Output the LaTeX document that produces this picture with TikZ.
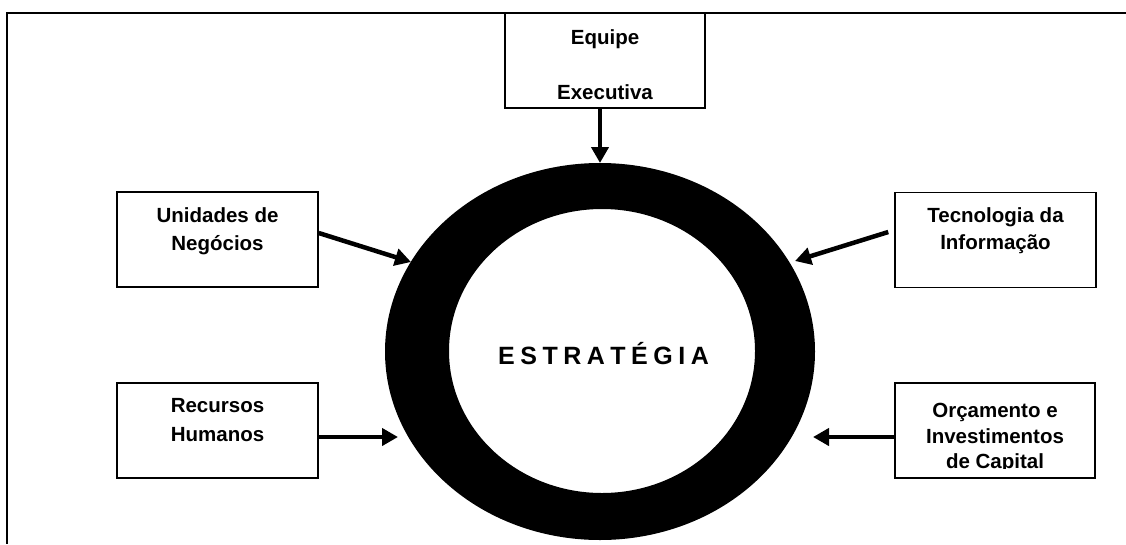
\documentclass[tikz,border=0pt]{standalone}
\usepackage{fontspec}
\newfontfamily\lblfont{Liberation Sans}
\usetikzlibrary{arrows.meta}
\begin{document}
\begin{tikzpicture}[x=1pt,y=-1pt,
  box/.style={draw,line width=1.5pt,inner sep=0pt,minimum width=201pt,minimum height=95pt},
  lbl/.style={inner sep=0pt,anchor=north,align=center},
  arr/.style={line width=4.5pt,-{Triangle[width=17pt,length=16pt]}}]
\useasboundingbox (0,0) rectangle (1126,544);
% frame
\draw[line width=2pt] (1126,13) -- (7,13) -- (7,544);
% ring
\fill[even odd rule] (600,351.5) ellipse [x radius=215pt, y radius=188.5pt]
                     (602,351) ellipse [x radius=153pt, y radius=142pt];
\coordinate (ring) at (602,351);
\node[anchor=base,inner sep=0pt,font={\lblfont\bfseries\fontsize{25}{25}\selectfont}] (strat) at (603.5,364)
  {E\kern5.5pt S\kern5.5pt T\kern5.5pt R\kern5.5pt A\kern5.5pt T\kern5.5pt É\kern5.5pt G\kern5.5pt I\kern5.5pt A};
% boxes
\node[box,minimum width=200pt] (exec) at (605,60.5) {};
\node[box] (unid) at (217.5,239.5) {};
\node[box] (tec) at (995.5,240) {};
\node[box] (rec) at (217.5,430.5) {};
\node[box,minimum width=200pt] (orc) at (995,430.5) {};
% labels
\node[lbl,font={\lblfont\bfseries\fontsize{20.5}{55}\selectfont}] (execT) at (605,29) {Equipe\\Executiva};
\node[lbl,font={\lblfont\bfseries\fontsize{20.5}{28}\selectfont}] (unidT) at (217.5,207) {Unidades de\\Negócios};
\node[lbl,font={\lblfont\bfseries\fontsize{20.5}{27}\selectfont}] (tecT) at (995.5,207) {Tecnologia da\\Informação};
\node[lbl,font={\lblfont\bfseries\fontsize{20.5}{29}\selectfont}] (recT) at (217.5,398) {Recursos\\Humanos};
\begin{scope}
\clip (896,384) rectangle (1094,468.5);
\node[lbl,font={\lblfont\bfseries\fontsize{20.5}{25.5}\selectfont}] (orcT) at (995,403) {Orçamento e\\Investimentos\\de Capital};
\end{scope}
% arrow targets
\coordinate (tTop) at (600,163);
\coordinate (tUnid) at (411,262);
\coordinate (tTec) at (795,261);
\coordinate (tRec) at (398,437);
\coordinate (tOrc) at (813,437);
% arrows
\draw[arr] ([xshift=-5pt]exec.south) -- (tTop);
\draw[arr] ([yshift=6.5pt]unid.east) -- (tUnid);
\draw[arr] ([xshift=-6pt,yshift=8pt]tec.west) -- (tTec);
\draw[arr] ([yshift=-6.5pt]rec.east) -- (tRec);
\draw[arr] ([yshift=-6.5pt]orc.west) -- (tOrc);
\end{tikzpicture}
\end{document}
